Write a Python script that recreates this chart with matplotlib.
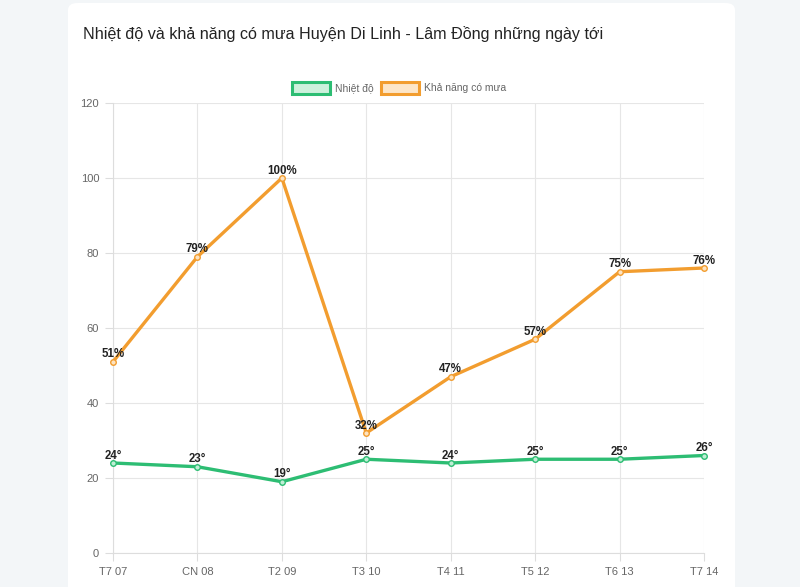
import matplotlib.pyplot as plt
from matplotlib.patches import FancyBboxPatch, Rectangle

ngay = ["T7 07", "CN 08", "T2 09", "T3 10", "T4 11", "T5 12", "T6 13", "T7 14"]
nhiet_do = [24, 23, 19, 25, 24, 25, 25, 26]
kha_nang_mua = [51, 79, 100, 32, 47, 57, 75, 76]
yticks = [0, 20, 40, 60, 80, 100, 120]

xanh = '#2dbd73'
cam = '#f29d2f'

plt.rcParams['font.family'] = ['Liberation Sans', 'DejaVu Sans']

fig = plt.figure(figsize=(8, 5.87), dpi=100)
fig.patch.set_facecolor('#f3f6f8')

# the white card (behind the axes)
card = FancyBboxPatch((68 / 800, -0.05), (735 - 68) / 800, 1.05 - 3 / 587,
                      boxstyle="round,pad=0,rounding_size=0.012",
                      transform=fig.transFigure, facecolor='white',
                      edgecolor='none', zorder=-5)
fig.patches.append(card)

fig.text(83 / 800, 1 - 34 / 587, "Nhiệt độ và khả năng có mưa Huyện Di Linh - Lâm Đồng những ngày tới",
         fontsize=11.6, color='#222222', va='center', ha='left')

ax = fig.add_axes([113 / 800, 1 - 553 / 587, (704 - 113) / 800, (553 - 103) / 587])
ax.set_facecolor('none')
x = list(range(len(ngay)))

ax.plot(x, nhiet_do, color=xanh, lw=2.4, marker='o', ms=4, mfc='#bfeed5', mec=xanh, zorder=3, clip_on=False)
ax.plot(x, kha_nang_mua, color=cam, lw=2.4, marker='o', ms=4, mfc='#fde3c0', mec=cam, zorder=3, clip_on=False)

for xi, v in zip(x, nhiet_do):
    ax.annotate(f"{v}°", (xi, v), xytext=(0, 1), textcoords='offset points',
                ha='center', va='bottom', fontsize=8.3, fontweight='bold', color='#222222', zorder=4)
for xi, v in zip(x, kha_nang_mua):
    ax.annotate(f"{v}%", (xi, v), xytext=(0, 1), textcoords='offset points',
                ha='center', va='bottom', fontsize=8.3, fontweight='bold', color='#222222', zorder=4)

ax.set_xlim(0, len(ngay) - 1)
ax.set_ylim(0, 120)
ax.set_xticks(x)
ax.set_xticklabels(ngay)
ax.set_yticks(yticks)
ax.grid(True, color='#e6e6e6', lw=0.8)
ax.set_axisbelow(True)
for s in ['top', 'right']:
    ax.spines[s].set_visible(False)
ax.spines['left'].set_color('#dddddd')
ax.spines['bottom'].set_color('#dddddd')
ax.tick_params(colors='#dddddd', labelcolor='#666666', labelsize=8, length=6, pad=4)

# legend like chart.js
ly = 1 - 88 / 587
bw, bh = 38 / 800, 11 / 587
lx = 292 / 800
fig.patches.append(Rectangle((lx, ly - bh / 2), bw, bh, transform=fig.transFigure,
                             facecolor='#cdf1dc', edgecolor=xanh, lw=2.2))
fig.text(lx + bw + 5 / 800, ly, "Nhiệt độ", fontsize=7.5, color='#666666', va='center')
lx2 = 381 / 800
fig.patches.append(Rectangle((lx2, ly - bh / 2), bw, bh, transform=fig.transFigure,
                             facecolor='#fde6c8', edgecolor=cam, lw=2.2))
fig.text(lx2 + bw + 5 / 800, ly, "Khả năng có mưa", fontsize=7.5, color='#666666', va='center')

fig.savefig('out.png', dpi=100)
